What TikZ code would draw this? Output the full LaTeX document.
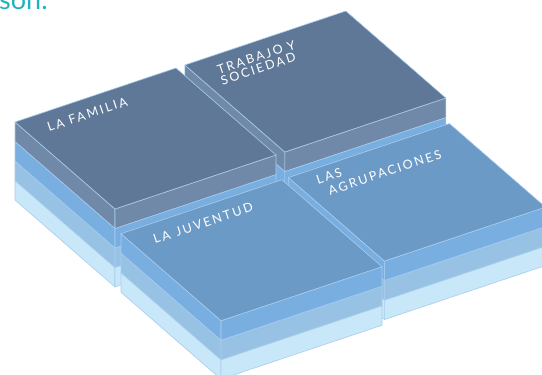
\documentclass[tikz,border=0pt]{standalone}
\usepackage{fontspec}
\setmainfont{Lato}
\newfontfamily\lblfont{Lato}[LetterSpace=17]
\definecolor{slateTop}{HTML}{5F7898}
\definecolor{slateSide}{HTML}{7089A8}
\definecolor{blueL}{HTML}{78AEE0}
\definecolor{medL}{HTML}{97C2E3}
\definecolor{lightL}{HTML}{C8E7F9}
\definecolor{frontTop}{HTML}{6C9AC7}
\definecolor{edgeC}{HTML}{A8CDEF}
\definecolor{titleC}{HTML}{20B3BB}
\newcommand\IP[3]{({15+100*(#1)+161*(#2)},{200+87*(#1)-54*(#2)-(#3)})}
\newcommand\SlabSides[3]{%
 \filldraw[fill=#3,edge] \IP{\SkA}{\SkB}{#2} -- \IP{\SkA+\SkU}{\SkB}{#2} -- \IP{\SkA+\SkU}{\SkB}{#1} -- \IP{\SkA}{\SkB}{#1} -- cycle;
 \filldraw[fill=#3,edge] \IP{\SkA+\SkU}{\SkB}{#2} -- \IP{\SkA+\SkU}{\SkB+\SkV}{#2} -- \IP{\SkA+\SkU}{\SkB+\SkV}{#1} -- \IP{\SkA+\SkU}{\SkB}{#1} -- cycle;
}
\newcommand\SlabTop[2]{%
 \filldraw[fill=#2,edge] \IP{\SkA}{\SkB}{#1} -- \IP{\SkA+\SkU}{\SkB}{#1} -- \IP{\SkA+\SkU}{\SkB+\SkV}{#1} -- \IP{\SkA}{\SkB+\SkV}{#1} -- cycle;
}
\newcommand\BackStack[4]{%
 \def\SkA{#1}\def\SkB{#2}\def\SkU{#3}\def\SkV{#4}%
 \SlabSides{0}{19.5}{lightL}\SlabSides{19.5}{39}{medL}\SlabSides{39}{58.5}{blueL}\SlabSides{58.5}{78}{slateSide}%
 \SlabTop{78}{slateTop}%
}
\newcommand\FrontStack[4]{%
 \def\SkA{#1}\def\SkB{#2}\def\SkU{#3}\def\SkV{#4}%
 \SlabSides{0}{19.5}{lightL}\SlabSides{19.5}{39}{medL}\SlabSides{39}{58.5}{blueL}%
 \SlabTop{58.5}{frontTop}%
}
\begin{document}
\begin{tikzpicture}[x=1pt,y=-1pt,
  edge/.style={draw=edgeC,line width=0.6pt,line join=round},
  lbl/.style={text=white,font=\lblfont\fontsize{12.5}{10}\selectfont,rotate=18.5,anchor=base west,inner sep=0pt},
  title/.style={text=titleC,font=\fontsize{27}{28}\selectfont,anchor=base west,inner sep=0pt}]
\useasboundingbox (0,0) rectangle (542,375);
\clip (0,0) rectangle (542,375);
\node[title] (ttl) at (-1,9.5) {son.};
% stacks, back to front
\BackStack{0}{1.055}{1}{1}
\BackStack{0}{0}{1}{1}
\FrontStack{1.06}{1.04}{0.96}{1}
\FrontStack{1.06}{0}{1}{1}
% labels
\node[lbl] (fam) at (49,132) {LA FAMILIA};
\node[lbl] (trab1) at (219,74.5) {TRABAJO Y};
\node[lbl] (trab2) at (222.5,85.5) {SOCIEDAD};
\node[lbl] (juv) at (155,244) {LA\enspace JUVENTUD};
\node[lbl] (agr1) at (318,184.5) {LAS};
\node[lbl] (agr2) at (330,195.5) {AGRUPACIONES};
\end{tikzpicture}
\end{document}
